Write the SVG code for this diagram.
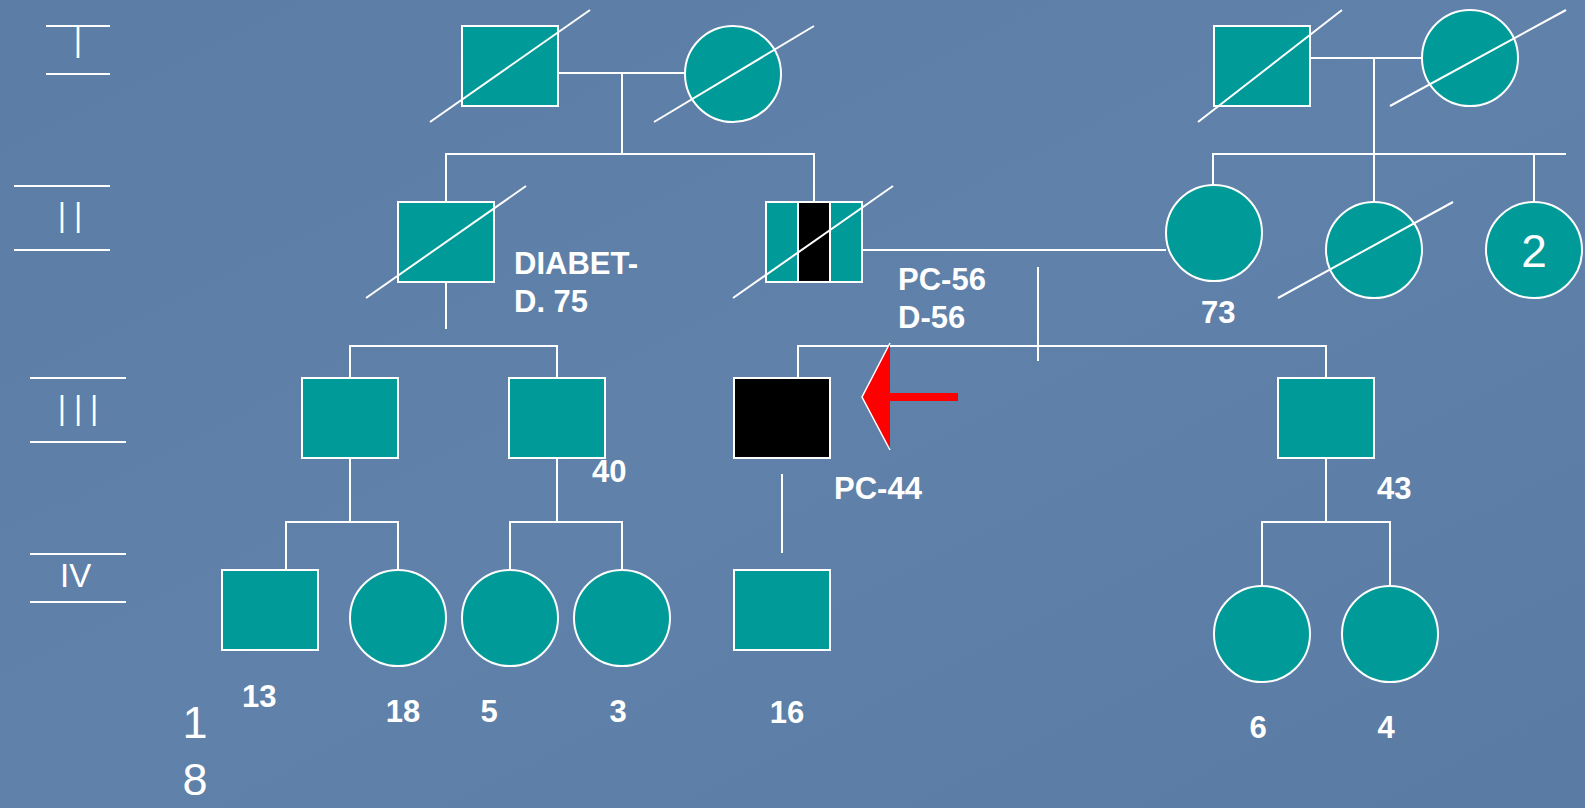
<svg xmlns="http://www.w3.org/2000/svg" width="1585" height="808" viewBox="0 0 1585 808">
<style>
.ln{stroke:#fff;stroke-width:2;fill:none}
.dx{stroke:#fff;stroke-width:2;fill:none}
.nd{fill:#009a98;stroke:#fff;stroke-width:2}
.bk{fill:#000;stroke:#fff;stroke-width:2}
.lb{font-family:"Liberation Sans",Arial,sans-serif;font-weight:bold;font-size:31px;fill:#fff}
.gn{font-family:"Liberation Sans",Arial,sans-serif;font-size:44px;fill:#fff;letter-spacing:14.5px}
.rg{font-family:"Liberation Sans",Arial,sans-serif;fill:#fff}
</style>
<defs>
<linearGradient id="bg" x1="0" y1="0" x2="1" y2="1">
<stop offset="0" stop-color="#5b7da6"/>
<stop offset="0.5" stop-color="#6081a9"/>
<stop offset="1" stop-color="#5a7ca4"/>
</linearGradient>
</defs>
<rect width="1585" height="808" fill="url(#bg)"/>

<g id="generation-labels">
<line class="ln" x1="46" y1="26" x2="110" y2="26"/>
<text class="gn" transform="translate(78,58) scale(0.6,1)" x="-6.1" y="0">I</text>
<line class="ln" x1="46" y1="74" x2="110" y2="74"/>
<line class="ln" x1="14" y1="186" x2="110" y2="186"/>
<text class="gn" transform="translate(62,233) scale(0.6,1)" x="-6.1" y="0">II</text>
<line class="ln" x1="14" y1="250" x2="110" y2="250"/>
<line class="ln" x1="30" y1="378" x2="126" y2="378"/>
<text class="gn" transform="translate(62,426) scale(0.6,1)" x="-6.1" y="0">III</text>
<line class="ln" x1="30" y1="442" x2="126" y2="442"/>
<line class="ln" x1="30" y1="554" x2="126" y2="554"/>
<text class="rg" x="60" y="587" font-size="33">IV</text>
<line class="ln" x1="30" y1="602" x2="126" y2="602"/>
</g>

<g id="connectors">
<line class="ln" x1="558" y1="73" x2="685" y2="73"/>
<line class="ln" x1="622" y1="73" x2="622" y2="154"/>
<polyline class="ln" points="446,202 446,154 814,154 814,202"/>
<line class="ln" x1="1310" y1="58" x2="1422" y2="58"/>
<line class="ln" x1="1374" y1="58" x2="1374" y2="202"/>
<polyline class="ln" points="1213,185 1213,154 1566,154"/>
<line class="ln" x1="1534" y1="154" x2="1534" y2="202"/>
<line class="ln" x1="446" y1="282" x2="446" y2="329"/>
<polyline class="ln" points="350,378 350,346 557,346 557,378"/>
<line class="ln" x1="862" y1="250" x2="1166" y2="250"/>
<line class="ln" x1="1038" y1="267" x2="1038" y2="361"/>
<polyline class="ln" points="798,378 798,346 1326,346 1326,378"/>
<line class="ln" x1="350" y1="458" x2="350" y2="522"/>
<polyline class="ln" points="286,570 286,522 398,522 398,570"/>
<line class="ln" x1="557" y1="458" x2="557" y2="522"/>
<polyline class="ln" points="510,570 510,522 622,522 622,570"/>
<line class="ln" x1="782" y1="474" x2="782" y2="553"/>
<line class="ln" x1="1326" y1="458" x2="1326" y2="522"/>
<polyline class="ln" points="1262,586 1262,522 1390,522 1390,586"/>
</g>

<g id="I-1">
<rect class="nd" x="462" y="26" width="96" height="80"/>
<line class="dx" x1="430" y1="122" x2="590" y2="10"/>
</g>
<g id="I-2">
<circle class="nd" cx="733" cy="74" r="48"/>
<line class="dx" x1="654" y1="122" x2="814" y2="26"/>
</g>
<g id="I-3">
<rect class="nd" x="1214" y="26" width="96" height="80"/>
<line class="dx" x1="1198" y1="122" x2="1342" y2="10"/>
</g>
<g id="I-4">
<circle class="nd" cx="1470" cy="58" r="48"/>
<line class="dx" x1="1390" y1="106" x2="1566" y2="10"/>
</g>

<g id="II-1">
<rect class="nd" x="398" y="202" width="96" height="80"/>
<line class="dx" x1="366" y1="298" x2="526" y2="186"/>
<text class="lb" x="514" y="274">DIABET-</text>
<text class="lb" x="514" y="312">D. 75</text>
</g>
<g id="II-2">
<rect class="nd" x="766" y="202" width="96" height="80"/>
<rect class="bk" x="798" y="202" width="32" height="80"/>
<line class="dx" x1="733" y1="298" x2="893" y2="186"/>
<text class="lb" x="898" y="290">PC-56</text>
<text class="lb" x="898" y="328">D-56</text>
</g>
<g id="II-3">
<circle class="nd" cx="1214" cy="233" r="48"/>
<text class="lb" x="1201" y="323">73</text>
</g>
<g id="II-4">
<circle class="nd" cx="1374" cy="250" r="48"/>
<line class="dx" x1="1278" y1="298" x2="1453" y2="202"/>
</g>
<g id="II-5">
<circle class="nd" cx="1534" cy="250" r="48"/>
<text class="rg" x="1534" y="267" font-size="46" text-anchor="middle">2</text>
</g>

<g id="III-1">
<rect class="nd" x="302" y="378" width="96" height="80"/>
</g>
<g id="III-2">
<rect class="nd" x="509" y="378" width="96" height="80"/>
<text class="lb" x="592" y="482">40</text>
</g>
<g id="III-3">
<rect class="bk" x="734" y="378" width="96" height="80"/>
<text class="lb" x="834" y="499">PC-44</text>
</g>
<g id="proband-arrow">
<polygon points="862,397 890,343 890,393 958,393 958,401 890,401 890,450" fill="#ff0000"/>
<polyline points="890,343 862,397 890,450" fill="none" stroke="#fff" stroke-width="1.5"/>
</g>
<g id="III-4">
<rect class="nd" x="1278" y="378" width="96" height="80"/>
<text class="lb" x="1377" y="499">43</text>
</g>

<g id="IV-1">
<rect class="nd" x="222" y="570" width="96" height="80"/>
<text class="lb" x="242" y="707">13</text>
</g>
<g id="IV-2">
<circle class="nd" cx="398" cy="618" r="48"/>
<text class="lb" x="403" y="722" text-anchor="middle">18</text>
</g>
<g id="IV-3">
<circle class="nd" cx="510" cy="618" r="48"/>
<text class="lb" x="489" y="722" text-anchor="middle">5</text>
</g>
<g id="IV-4">
<circle class="nd" cx="622" cy="618" r="48"/>
<text class="lb" x="618" y="722" text-anchor="middle">3</text>
</g>
<g id="IV-5">
<rect class="nd" x="734" y="570" width="96" height="80"/>
<text class="lb" x="787" y="723" text-anchor="middle">16</text>
</g>
<g id="IV-6">
<circle class="nd" cx="1262" cy="634" r="48"/>
<text class="lb" x="1258" y="738" text-anchor="middle">6</text>
</g>
<g id="IV-7">
<circle class="nd" cx="1390" cy="634" r="48"/>
<text class="lb" x="1386" y="738" text-anchor="middle">4</text>
</g>

<g id="slide-number">
<text class="rg" x="195" y="738" font-size="45" text-anchor="middle">1</text>
<text class="rg" x="195" y="795" font-size="45" text-anchor="middle">8</text>
</g>
</svg>
